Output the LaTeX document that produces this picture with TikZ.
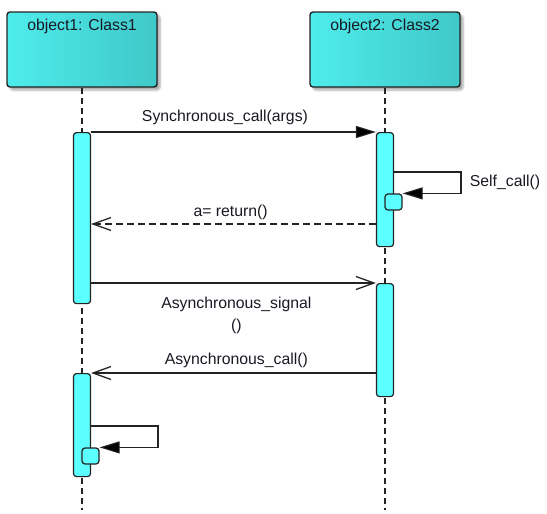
\documentclass[tikz,border=0pt]{standalone}
\usepackage{fontspec}
\setmainfont{Liberation Sans}
\usetikzlibrary{arrows.meta}
\usetikzlibrary{positioning}
\usetikzlibrary{shadows.blur}
\definecolor{cyanhell}{RGB}{92,255,255}
\definecolor{cyanlinks}{RGB}{78,236,236}
\definecolor{cyandunkel}{RGB}{64,200,200}
\definecolor{rahmen}{RGB}{35,35,35}
\definecolor{schrift}{RGB}{25,25,35}

\begin{document}
\begin{tikzpicture}[x=1pt, y=-1pt,
  every node/.style={font=\fontsize{15.8}{22}\selectfont, text=schrift},
  objekt/.style={draw=rahmen, line width=1.4pt, rounded corners=3pt,
    minimum width=150pt, minimum height=75pt,
    left color=cyanlinks, middle color=cyanhell, right color=cyandunkel,
    blur shadow={shadow xshift=3pt, shadow yshift=-3pt, shadow opacity=35}},
  aktiv/.style={draw=rahmen, line width=1.2pt, fill=cyanhell,
    rounded corners=3pt, minimum width=17pt, inner sep=0pt, anchor=north},
  selbst/.style={draw=rahmen, line width=1.2pt, fill=cyanhell,
    rounded corners=3pt, minimum width=17pt, minimum height=16pt, inner sep=0pt},
  leben/.style={draw=rahmen, line width=1.1pt, dash pattern=on 6pt off 4pt},
  sync/.style={draw=rahmen, line width=1.1pt, -{Triangle[length=20pt,width=12pt,fill=black]}},
  async/.style={draw=rahmen, line width=1.1pt, -{Straight Barb[length=18pt,width=13pt,line width=1.3pt]}},
  antwort/.style={async, dash pattern=on 7pt off 4pt}]

  \useasboundingbox (0,0) rectangle (547,514);

  % Objekte
  \node[objekt] (o1) at (82,49.5) {};
  \node[objekt] (o2) at (385,49.5) {};
  \node[below=4pt of o1.north] (t1) {object1: Class1};
  \node[below=4pt of o2.north] (t2) {object2: Class2};

  % Lebenslinien
  \coordinate (e1) at (82,510);
  \coordinate (e2) at (385,510);
  \draw[leben] (o1.south) -- (e1);
  \draw[leben] (o2.south) -- (e2);

  % Aktivierungsbalken
  \node[aktiv, minimum height=171pt] (b1a) at (82,132) {};
  \node[aktiv, minimum height=114pt] (b2a) at (385,132) {};
  \node[aktiv, minimum height=113pt] (b2b) at (385,283) {};
  \node[aktiv, minimum height=103pt] (b1b) at (82,373) {};
  \node[selbst] (sb2) at (393.5,202) {};
  \node[selbst] (sb1) at (90.5,456) {};

  % Nachrichten
  \draw[sync] (b1a.north east) -- (b2a.north west)
    node[pos=0.47, above=3pt] (n1) {Synchronous\_call(args)};
  \coordinate (r1) at (0,224);
  \draw[antwort] (b2a.west |- r1) -- (b1a.east |- r1)
    node[pos=0.51, above=0pt] (n2) {a= return()};
  \draw[async] (b1a.east |- b2b.north) -- (b2b.north west)
    node[pos=0.51, below=10pt, align=center] (n3) {Asynchronous\_signal\\()};
  \draw[async] (b2b.west |- b1b.north) -- (b1b.north east)
    node[pos=0.49, above=1.5pt] (n4) {Asynchronous\_call()};

  % Selbstaufrufe
  \coordinate (s2) at (461,172);
  \draw[sync] (b2a.east |- s2) -- (s2) |- node[pos=0.25, right=5pt] (n5) {Self\_call()} (sb2.north east);
  \coordinate (s1) at (158,426);
  \draw[sync] (b1b.east |- s1) -- (s1) |- (sb1.north east);

\end{tikzpicture}
\end{document}
